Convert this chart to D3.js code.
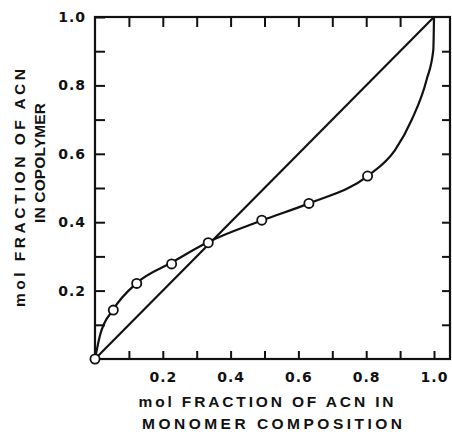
<!DOCTYPE html>
<html>
<head>
<meta charset="utf-8">
<script src="https://cdn.jsdelivr.net/npm/d3@7"></script>
<style>
  html, body { margin: 0; padding: 0; background: #fff; }
  svg { display: block; }
  .tick text { font-family: "DejaVu Sans", sans-serif; font-weight: bold; font-size: 14px; letter-spacing: 1px; fill: #111; }
  .title { font-family: "Liberation Sans", Arial, sans-serif; font-weight: bold; font-size: 15.5px; fill: #111; }
</style>
</head>
<body>
<svg id="chart" width="452" height="436"></svg>
<script>
// Measured copolymer compositions (mol fraction ACN in monomer feed vs. in copolymer)
const feedFraction = [0, 0.054, 0.123, 0.226, 0.334, 0.492, 0.631, 0.804];
const copolymerFraction = [0, 0.143, 0.221, 0.278, 0.340, 0.406, 0.455, 0.535];

// Smooth composition curve through the measurements, ending at (1, 1)
const curveFeed = [0, 0.015, 0.054, 0.123, 0.226, 0.334, 0.492, 0.631, 0.804, 0.885, 0.934, 0.978, 0.998, 1];
const curveCopolymer = [0, 0.07, 0.145, 0.222, 0.282, 0.342, 0.405, 0.455, 0.535, 0.611, 0.699, 0.816, 0.904, 1];

// Axis ticks and labels
const tickValues = [0.1, 0.2, 0.3, 0.4, 0.5, 0.6, 0.7, 0.8, 0.9, 1.0];
const labelValues = [0.2, 0.4, 0.6, 0.8, 1.0];
const xTitle = ["mol FRACTION OF ACN IN", "MONOMER COMPOSITION"];
const yTitle = ["mol FRACTION OF ACN", "IN COPOLYMER"];

const svg = d3.select("#chart");
const plotLeft = 95, plotRight = 434, plotTop = 17, plotBottom = 359, frameRight = 450;

const x = d3.scaleLinear().domain([0, 1]).range([plotLeft, plotRight]);
const y = d3.scaleLinear().domain([0, 1]).range([plotBottom, plotTop]);

const fmt = v => labelValues.some(l => Math.abs(l - v) < 1e-9) ? d3.format(".1f")(v) : "";

// Bottom axis: inward ticks, labels below
const gx = svg.append("g").attr("transform", `translate(0,${plotBottom})`)
  .call(d3.axisBottom(x).tickValues(tickValues).tickSizeInner(-8).tickSizeOuter(0).tickPadding(13).tickFormat(fmt));
// Left axis
const gy = svg.append("g").attr("transform", `translate(${plotLeft},0)`)
  .call(d3.axisLeft(y).tickValues(tickValues).tickSizeInner(-10).tickSizeOuter(0).tickPadding(9).tickFormat(fmt));
// Top axis: ticks only
const gt = svg.append("g").attr("transform", `translate(0,${plotTop})`)
  .call(d3.axisTop(x).tickValues(tickValues.slice(0, 9)).tickSizeInner(-10).tickSizeOuter(0).tickFormat(""));
// Right axis: ticks only, on the frame edge
const gr = svg.append("g").attr("transform", `translate(${frameRight},0)`)
  .call(d3.axisRight(y).tickValues(tickValues.slice(0, 9)).tickSizeInner(-8).tickSizeOuter(0).tickFormat(""));

[gx, gy, gt, gr].forEach(g => {
  g.select(".domain").remove();
  g.selectAll(".tick line").attr("stroke", "#111").attr("stroke-width", 2);
});

// Frame
svg.append("rect")
  .attr("x", plotLeft).attr("y", plotTop)
  .attr("width", frameRight - plotLeft).attr("height", plotBottom - plotTop)
  .attr("fill", "none").attr("stroke", "#111").attr("stroke-width", 2.2);

// Diagonal reference line
svg.append("line")
  .attr("x1", x(0)).attr("y1", y(0)).attr("x2", x(1)).attr("y2", y(1))
  .attr("stroke", "#111").attr("stroke-width", 2.2);

// Composition curve
const curvePts = curveFeed.map((f, i) => [f, curveCopolymer[i]]);
svg.append("path")
  .datum(curvePts)
  .attr("d", d3.line().x(d => x(d[0])).y(d => y(d[1])).curve(d3.curveMonotoneX))
  .attr("fill", "none").attr("stroke", "#111").attr("stroke-width", 2.2);

// Data points
svg.append("g").selectAll("circle")
  .data(feedFraction.map((f, i) => [f, copolymerFraction[i]]))
  .join("circle")
  .attr("cx", d => x(d[0])).attr("cy", d => y(d[1])).attr("r", 4.6)
  .attr("fill", "#fff").attr("stroke", "#111").attr("stroke-width", 1.8);

// Axis titles
function title(txt, len, transform) {
  svg.append("text").attr("class", "title")
    .attr("text-anchor", "middle")
    .attr("textLength", len).attr("lengthAdjust", "spacing")
    .attr("transform", transform)
    .text(txt);
}
title(xTitle[0], 255, "translate(266,407)");
title(xTitle[1], 260, "translate(272,429)");
title(yTitle[0], 238, "translate(25,188) rotate(-90)");
title(yTitle[1], 120, "translate(45,163) rotate(-90)");
</script>
</body>
</html>
